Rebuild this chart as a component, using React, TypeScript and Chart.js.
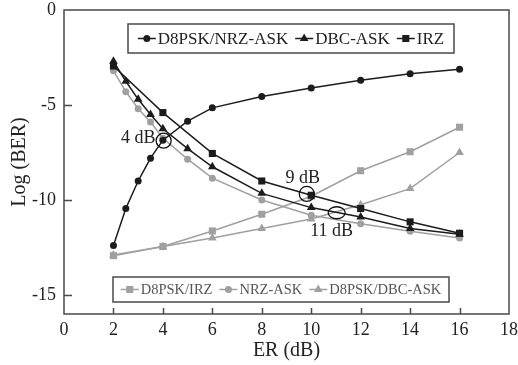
import React, { useEffect, useRef } from 'react';
import Chart from 'chart.js/auto';

const FONT = '"Liberation Serif", "Times New Roman", serif';
const BLACK = '#1c1c1c';
const GREY = '#a0a0a0';
const FRAME = '#4a4a4a';

// ER (dB) sample positions
const erDense = [2, 2.5, 3, 3.5, 4, 5, 6, 8, 10, 12, 14, 16];
const erSparse = [2, 4, 6, 8, 10, 12, 14, 16];

// Log(BER) values
const d8pskNrzAsk = [-12.4, -10.45, -9.0, -7.8, -6.85, -5.85, -5.15, -4.55, -4.1, -3.7, -3.35, -3.12];
const dbcAsk = [-2.7, -3.75, -4.7, -5.5, -6.25, -7.3, -8.25, -9.65, -10.4, -10.9, -11.5, -11.8];
const irz = [-2.95, -5.4, -7.55, -9.0, -9.75, -10.45, -11.15, -11.75];
const d8pskIrz = [-12.93, -12.45, -11.63, -10.75, -9.8, -8.46, -7.46, -6.17];
const nrzAsk = [-3.2, -4.3, -5.2, -5.9, -6.75, -7.85, -8.85, -10.0, -10.8, -11.25, -11.65, -12.0];
const d8pskDbcAsk = [-12.9, -12.45, -12.0, -11.5, -11.0, -10.25, -9.4, -7.5];

const xTicks = [0, 2, 4, 6, 8, 10, 12, 14, 16, 18];
const yTicks = [0, -5, -10, -15];

const markLabels = ['4 dB', '9 dB', '11 dB'];
const markX = [4.03, 9.82, 11.03];
const markY = [-6.88, -9.68, -10.67];

const topLegend = ['D8PSK/NRZ-ASK', 'DBC-ASK', 'IRZ'];
const bottomLegend = ['D8PSK/IRZ', 'NRZ-ASK', 'D8PSK/DBC-ASK'];

const pts = (xs: number[], ys: number[]) => xs.map((x, i) => ({ x, y: ys[i] }));

function drawMarker(ctx: CanvasRenderingContext2D, style: string, x: number, y: number, r: number, color: string) {
  ctx.fillStyle = color;
  ctx.beginPath();
  if (style === 'circle') {
    ctx.arc(x, y, r, 0, Math.PI * 2);
  } else if (style === 'triangle') {
    ctx.moveTo(x, y - r);
    ctx.lineTo(x + r * 0.866, y + r * 0.5);
    ctx.lineTo(x - r * 0.866, y + r * 0.5);
    ctx.closePath();
  } else {
    const s = r * Math.SQRT1_2;
    ctx.rect(x - s, y - s, 2 * s, 2 * s);
  }
  ctx.fill();
}

function drawLegend(
  ctx: CanvasRenderingContext2D,
  labels: string[],
  styles: string[],
  color: string,
  textColor: string,
  left: number, top: number, w: number, h: number,
  fontSize: number, radii: number[]
) {
  ctx.save();
  ctx.fillStyle = '#ffffff';
  ctx.fillRect(left, top, w, h);
  ctx.strokeStyle = FRAME;
  ctx.lineWidth = 1.5;
  ctx.strokeRect(left, top, w, h);
  ctx.font = `${fontSize}px ${FONT}`;
  ctx.textBaseline = 'middle';
  ctx.textAlign = 'left';
  const sample = 18, gapT = 2, gapI = 7;
  let total = 0;
  labels.forEach((l, i) => {
    total += sample + gapT + ctx.measureText(l).width + (i < labels.length - 1 ? gapI : 0);
  });
  let xx = left + (w - total) / 2;
  const cy = top + h / 2;
  labels.forEach((l, i) => {
    ctx.strokeStyle = color;
    ctx.lineWidth = 1.5;
    ctx.beginPath();
    ctx.moveTo(xx, cy);
    ctx.lineTo(xx + sample, cy);
    ctx.stroke();
    drawMarker(ctx, styles[i], xx + sample / 2, cy, radii[i], color);
    xx += sample + gapT;
    ctx.fillStyle = textColor;
    ctx.fillText(l, xx, cy + 1);
    xx += ctx.measureText(l).width + gapI;
  });
  ctx.restore();
}

const decorPlugin = {
  id: 'decor',
  afterDatasetsDraw(chart: any) {
    const { ctx, chartArea: a, scales } = chart;
    const xs = scales.x, ys = scales.y;
    ctx.save();
    // frame
    ctx.strokeStyle = FRAME;
    ctx.lineWidth = 1.5;
    ctx.strokeRect(a.left, a.top, a.right - a.left, a.bottom - a.top);
    // inward tick marks
    ctx.beginPath();
    xTicks.forEach((v) => {
      if (v <= xs.min || v >= xs.max) return;
      const px = Math.round(xs.getPixelForValue(v)) + 0.5;
      ctx.moveTo(px, a.bottom);
      ctx.lineTo(px, a.bottom - 6);
    });
    yTicks.forEach((v) => {
      if (v <= ys.min || v >= ys.max) return;
      const py = Math.round(ys.getPixelForValue(v)) + 0.5;
      ctx.moveTo(a.left, py);
      ctx.lineTo(a.left + 8, py);
    });
    ctx.stroke();

    // crossing markers
    ctx.strokeStyle = '#111';
    ctx.lineWidth = 1.3;
    ctx.fillStyle = '#222';
    ctx.font = `18px ${FONT}`;
    ctx.textBaseline = 'middle';
    markLabels.forEach((lab, i) => {
      const px = xs.getPixelForValue(markX[i]);
      const py = ys.getPixelForValue(markY[i]);
      ctx.beginPath();
      if (i === 2) ctx.ellipse(px, py, 8.5, 6, 0, 0, Math.PI * 2);
      else ctx.arc(px, py, 7.5, 0, Math.PI * 2);
      ctx.stroke();
      if (i === 0) {
        ctx.textAlign = 'right';
        ctx.fillText(lab, px - 8, py - 2);
      } else if (i === 1) {
        ctx.textAlign = 'center';
        ctx.fillText(lab, px - 4, py - 16);
      } else {
        ctx.textAlign = 'center';
        ctx.fillText(lab, px - 5, py + 19);
      }
    });
    ctx.restore();

    // legends
    drawLegend(ctx, topLegend, ['circle', 'triangle', 'rect'], BLACK, '#222',
      a.left + 64, a.top + 14, 326, 29, 17, [3.5, 5, 5]);
    drawLegend(ctx, bottomLegend, ['rect', 'circle', 'triangle'], GREY, '#555',
      a.left + 49, a.top + 267, 336, 25, 14.5, [5, 3.5, 5]);
  },
};

export default function App() {
  const ref = useRef<HTMLCanvasElement | null>(null);
  useEffect(() => {
    document.body.style.margin = '0';
    const canvas = ref.current!;
    const mk = (label: string, xs: number[], ys: number[], color: string, style: string, r: number, order: number) => ({
      label,
      data: pts(xs, ys),
      borderColor: color,
      backgroundColor: color,
      borderWidth: 1.5,
      pointStyle: style,
      pointRadius: r,
      pointBorderWidth: 0,
      pointBackgroundColor: color,
      tension: 0,
      order,
    });
    const chart = new Chart(canvas, {
      type: 'line',
      data: {
        datasets: [
          mk('D8PSK/IRZ', erSparse, d8pskIrz, GREY, 'rect', 5, 2),
          mk('NRZ-ASK', erDense, nrzAsk, GREY, 'circle', 3.5, 2),
          mk('D8PSK/DBC-ASK', erSparse, d8pskDbcAsk, GREY, 'triangle', 5, 2),
          mk('D8PSK/NRZ-ASK', erDense, d8pskNrzAsk, BLACK, 'circle', 3.5, 1),
          mk('DBC-ASK', erDense, dbcAsk, BLACK, 'triangle', 5, 1),
          mk('IRZ', erSparse, irz, BLACK, 'rect', 5, 1),
        ] as any,
      },
      options: {
        animation: false,
        responsive: false,
        maintainAspectRatio: false,
        layout: { padding: { top: 10, right: 9, bottom: 0, left: 0 } },
        plugins: { legend: { display: false }, tooltip: { enabled: false } },
        scales: {
          x: {
            type: 'linear',
            min: 0,
            max: 18,
            grid: { display: false, drawTicks: false },
            border: { display: false },
            afterBuildTicks: (s: any) => { s.ticks = xTicks.map((v) => ({ value: v })); },
            afterFit: (s: any) => { s.height = 51; s.paddingLeft = 0; s.paddingRight = 0; },
            ticks: {
              autoSkip: false,
              maxRotation: 0,
              padding: 5,
              color: '#222',
              font: { family: FONT, size: 18 },
              callback: (v: any) => String(v),
            },
            title: {
              display: true,
              text: 'ER (dB)',
              color: '#222',
              font: { family: FONT, size: 20 },
              padding: { top: 0, bottom: 2 },
            },
          },
          y: {
            type: 'linear',
            min: -16,
            max: 0,
            grid: { display: false, drawTicks: false },
            border: { display: false },
            afterBuildTicks: (s: any) => { s.ticks = yTicks.map((v) => ({ value: v })); },
            afterFit: (s: any) => { s.width = 64; s.paddingTop = 0; s.paddingBottom = 0; },
            ticks: {
              autoSkip: false,
              padding: 8,
              color: '#222',
              font: { family: FONT, size: 18 },
              callback: (v: any) => String(v),
            },
            title: {
              display: true,
              text: 'Log (BER)',
              color: '#222',
              font: { family: FONT, size: 20 },
              padding: { top: 8, bottom: 0 },
            },
          },
        },
      },
      plugins: [decorPlugin],
    } as any);
    return () => chart.destroy();
  }, []);
  return <canvas ref={ref} width={518} height={365} style={{ display: 'block', width: 518, height: 365 }} />;
}
